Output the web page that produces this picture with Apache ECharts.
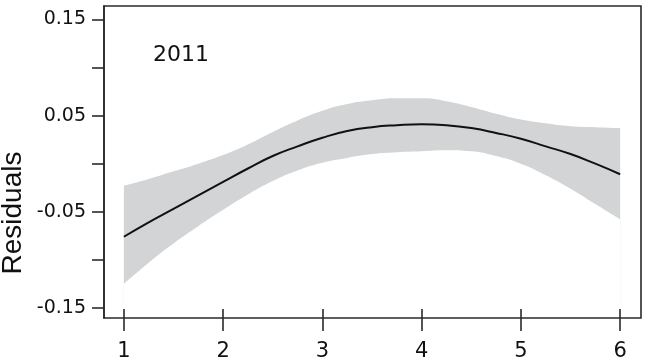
<!DOCTYPE html>
<html>
<head>
<meta charset="utf-8">
<script src="https://cdn.jsdelivr.net/npm/echarts@6/dist/echarts.min.js"></script>
<style>html,body{margin:0;padding:0;background:#fff}#c{width:650px;height:364px}</style>
</head>
<body>
<div id="c"></div>
<script>
var xs = [1, 1.25, 1.5, 1.75, 2, 2.25, 2.5, 2.75, 3, 3.25, 3.5, 3.75, 4, 4.25, 4.5, 4.75, 5, 5.25, 5.5, 5.75, 6];
var fit = [-0.076, -0.061, -0.047, -0.033, -0.019, -0.005, 0.008, 0.018, 0.027, 0.034, 0.038, 0.040, 0.041, 0.040, 0.037, 0.032, 0.026, 0.018, 0.010, 0.000, -0.011];
var upper = [-0.023, -0.016, -0.008, 0.000, 0.009, 0.020, 0.033, 0.045, 0.055, 0.062, 0.066, 0.068, 0.068, 0.065, 0.059, 0.052, 0.046, 0.042, 0.039, 0.038, 0.037];
var lower = [-0.125, -0.103, -0.083, -0.065, -0.048, -0.032, -0.018, -0.007, 0.001, 0.006, 0.010, 0.012, 0.013, 0.014, 0.013, 0.008, 0.000, -0.012, -0.026, -0.042, -0.058];
var xTicks = [1, 2, 3, 4, 5, 6];
var yTicks = [-0.15, -0.10, -0.05, 0, 0.05, 0.10, 0.15];
var yLabels = [-0.15, -0.05, 0.05, 0.15];
var panelLabel = '2011';
var yName = 'Residuals';

function pairs(v) { return xs.map(function (x, i) { return [x, v[i]]; }); }

var FONT = 'DejaVu Sans';
var AX = '#2a2a2a';
var chart = echarts.init(document.getElementById('c'), null, {renderer: 'canvas'});
chart.setOption({
  animation: false,
  backgroundColor: '#fff',
  grid: {left: 104, right: 9, top: 6, bottom: 46, show: true, z: 10,
         backgroundColor: 'transparent', borderColor: AX, borderWidth: 1.6},
  xAxis: {
    type: 'value', min: 0.8, max: 6.21, z: 10, offset: -9,
    splitLine: {show: false},
    axisLine: {show: false, onZero: false},
    axisTick: {show: true, inside: false, length: 22, customValues: xTicks,
               lineStyle: {color: AX, width: 1.6}},
    axisLabel: {show: true, customValues: xTicks, margin: 32, color: '#111',
                fontFamily: FONT, fontSize: 21}
  },
  yAxis: {
    type: 'value', min: -0.1605, max: 0.164, z: 10,
    splitLine: {show: false},
    axisLine: {show: true, onZero: false, lineStyle: {color: AX, width: 1.6}},
    axisTick: {show: true, inside: false, length: 12, customValues: yTicks,
               lineStyle: {color: AX, width: 1.6}},
    axisLabel: {show: true, customValues: yLabels, margin: 18, color: '#111',
                fontFamily: FONT, fontSize: 19,
                formatter: function (v) { return v.toFixed(2); }}
  },
  graphic: [{
    type: 'text', x: 153, y: 55,
    style: {text: panelLabel, fontFamily: FONT, fontSize: 22, fill: '#111',
            textAlign: 'left', textVerticalAlign: 'middle'}
  }, {
    type: 'text', x: 13, y: 213, rotation: Math.PI / 2,
    style: {text: yName, fontFamily: 'Liberation Sans', fontSize: 28, fill: '#111',
            textAlign: 'center', textVerticalAlign: 'middle'}
  }],
  series: [{
    type: 'line', data: pairs(upper), smooth: true, symbol: 'none', z: 1,
    lineStyle: {width: 0, opacity: 0},
    areaStyle: {color: '#d3d4d6', opacity: 1, origin: 'start'}
  }, {
    type: 'line', data: pairs(lower), smooth: true, symbol: 'none', z: 2,
    lineStyle: {width: 0, opacity: 0},
    areaStyle: {color: '#ffffff', opacity: 1, origin: 'start'}
  }, {
    type: 'line', data: pairs(fit), smooth: true, symbol: 'none', z: 3,
    lineStyle: {width: 2, color: '#111'}
  }]
});
</script>
</body>
</html>
